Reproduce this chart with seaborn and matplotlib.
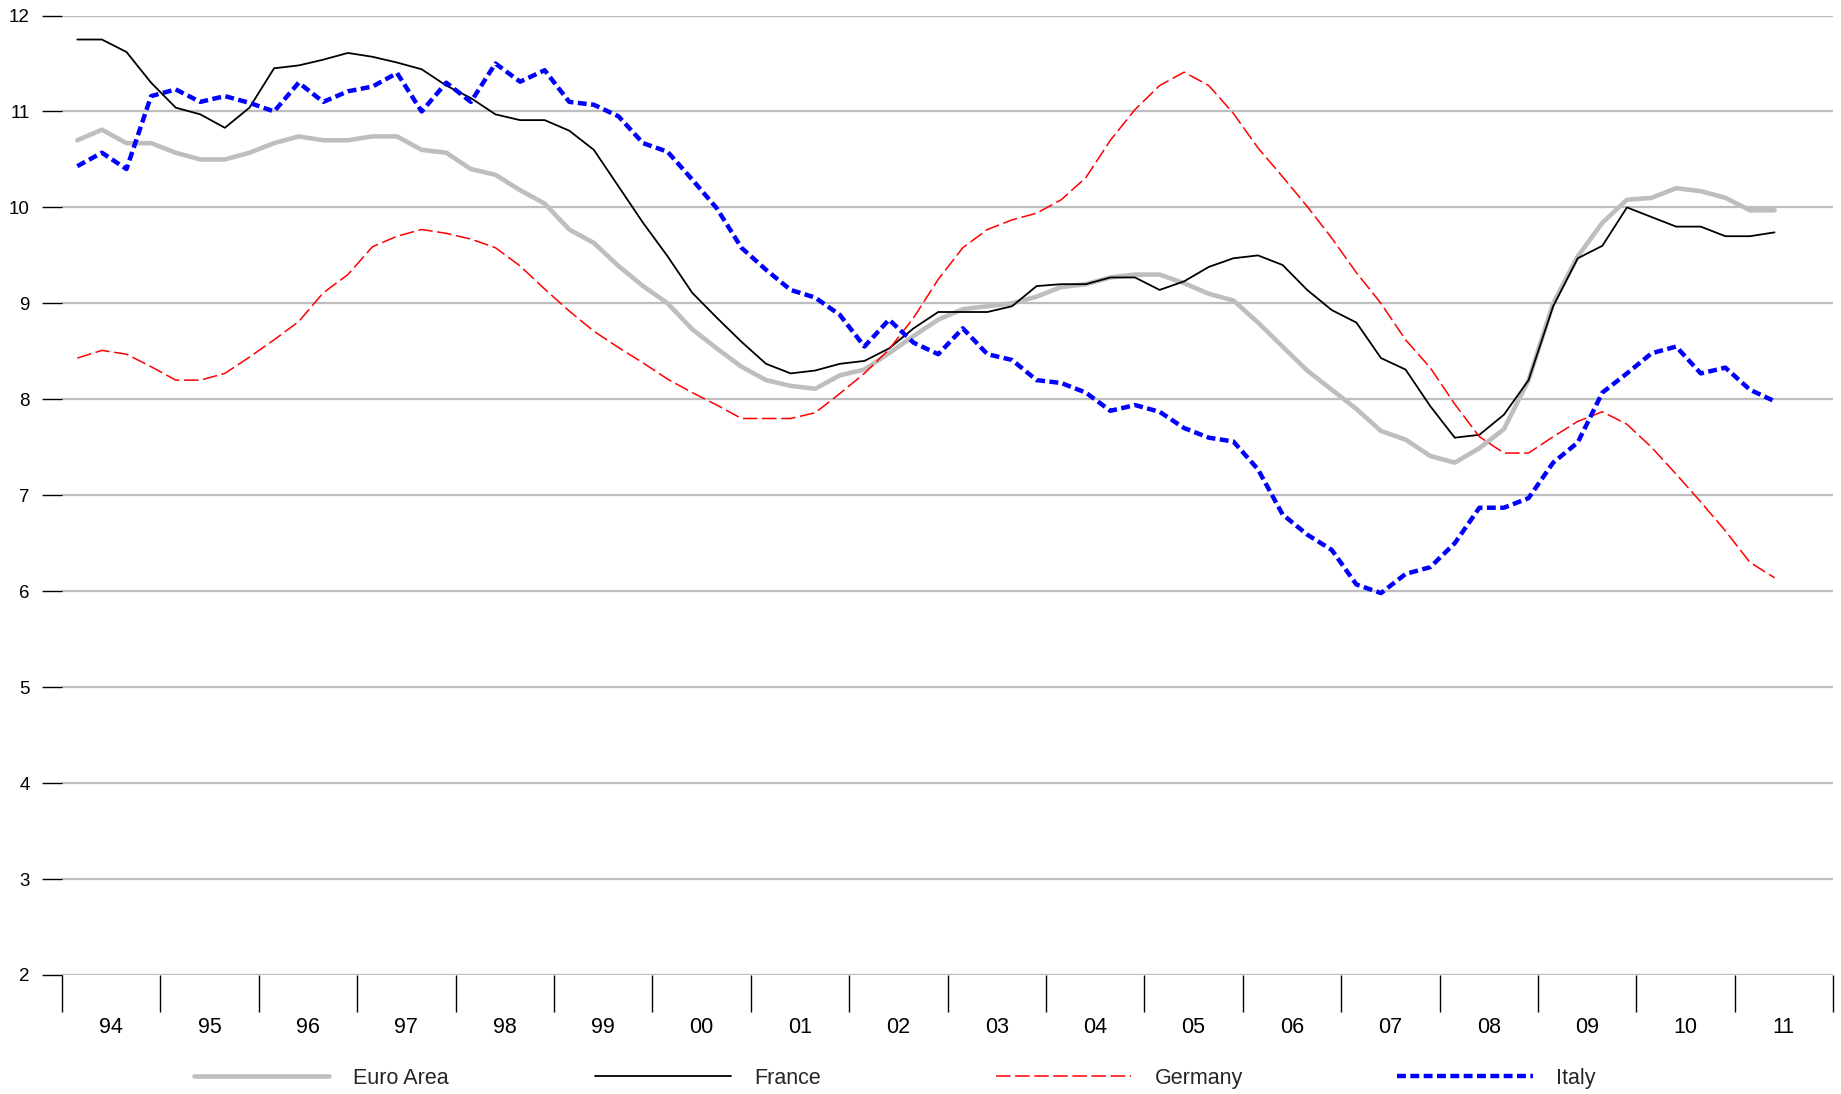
import numpy as np
import pandas as pd
import matplotlib
matplotlib.use("Agg")
import matplotlib.pyplot as plt
import seaborn as sns

# quarterly series, 1994Q1 .. 2011Q2
quarters = pd.period_range("1994Q1", "2011Q2", freq="Q")

euro_area = [10.70, 10.81, 10.67, 10.67, 10.57, 10.50, 10.50, 10.57, 10.67, 10.74,
             10.70, 10.70, 10.74, 10.74, 10.60, 10.57, 10.40, 10.34, 10.18, 10.04,
             9.77, 9.63, 9.39, 9.18, 9.00, 8.73, 8.53, 8.34, 8.20, 8.14,
             8.11, 8.25, 8.31, 8.48, 8.66, 8.83, 8.94, 8.97, 9.00, 9.07,
             9.17, 9.20, 9.27, 9.30, 9.30, 9.21, 9.10, 9.03, 8.80, 8.55,
             8.30, 8.10, 7.90, 7.67, 7.58, 7.41, 7.34, 7.49, 7.69, 8.20,
             9.00, 9.49, 9.84, 10.08, 10.10, 10.20, 10.17, 10.10, 9.97, 9.97]

france = [11.75, 11.75, 11.62, 11.30, 11.04, 10.97, 10.83, 11.04, 11.45, 11.48,
          11.54, 11.61, 11.57, 11.51, 11.44, 11.27, 11.14, 10.97, 10.91, 10.91,
          10.80, 10.60, 10.22, 9.84, 9.49, 9.11, 8.85, 8.60, 8.37, 8.27,
          8.30, 8.37, 8.40, 8.53, 8.74, 8.91, 8.91, 8.91, 8.97, 9.18,
          9.20, 9.20, 9.27, 9.27, 9.14, 9.23, 9.38, 9.47, 9.50, 9.40,
          9.14, 8.93, 8.80, 8.43, 8.31, 7.93, 7.60, 7.63, 7.84, 8.20,
          8.97, 9.47, 9.60, 10.00, 9.90, 9.80, 9.80, 9.70, 9.70, 9.74]

germany = [8.43, 8.51, 8.47, 8.34, 8.20, 8.20, 8.27, 8.44, 8.62, 8.81,
           9.11, 9.30, 9.59, 9.70, 9.77, 9.73, 9.67, 9.58, 9.39, 9.15,
           8.92, 8.71, 8.54, 8.38, 8.21, 8.07, 7.94, 7.80, 7.80, 7.80,
           7.86, 8.06, 8.27, 8.52, 8.85, 9.25, 9.58, 9.77, 9.87, 9.94,
           10.08, 10.31, 10.70, 11.02, 11.27, 11.41, 11.27, 10.98, 10.62, 10.32,
           10.01, 9.68, 9.32, 9.00, 8.62, 8.33, 7.95, 7.61, 7.44, 7.44,
           7.61, 7.77, 7.87, 7.74, 7.50, 7.22, 6.93, 6.63, 6.30, 6.14]

italy = [10.43, 10.57, 10.40, 11.16, 11.23, 11.10, 11.16, 11.09, 11.00, 11.30,
         11.10, 11.21, 11.26, 11.40, 11.00, 11.30, 11.10, 11.50, 11.31, 11.43,
         11.10, 11.07, 10.95, 10.67, 10.58, 10.29, 9.99, 9.58, 9.35, 9.14,
         9.06, 8.88, 8.55, 8.83, 8.59, 8.47, 8.74, 8.47, 8.41, 8.20,
         8.17, 8.07, 7.88, 7.94, 7.87, 7.70, 7.60, 7.56, 7.27, 6.80,
         6.59, 6.43, 6.07, 5.98, 6.18, 6.25, 6.50, 6.87, 6.87, 6.97,
         7.34, 7.55, 8.07, 8.27, 8.48, 8.55, 8.27, 8.33, 8.10, 7.98]

years = list(range(1994, 2012))
year_labels = ["94", "95", "96", "97", "98", "99", "00", "01", "02",
               "03", "04", "05", "06", "07", "08", "09", "10", "11"]
y_ticks = list(range(2, 13))

sns.set_theme(style="white")
plt.rcParams["font.family"] = ["Liberation Sans", "DejaVu Sans"]

# fractional year for each quarter (points sit early in the quarter)
t = quarters.year + (quarters.quarter - 1) / 4 + 0.155

df = pd.DataFrame({"t": t, "Euro Area": euro_area, "France": france,
                   "Germany": germany, "Italy": italy})

styles = {
    "Euro Area": dict(color="#bebebe", lw=3.3, linestyle="-"),
    "France": dict(color="black", lw=1.3, linestyle="-"),
    "Germany": dict(color="#ff0000", lw=1.1, linestyle=(0, (9.5, 3))),
    "Italy": dict(color="#0000ff", lw=3.2, linestyle=(0, (2.0, 1.0))),
}

fig = plt.figure(figsize=(18.41, 10.94), dpi=100)
ax = fig.add_axes([0.0337, 0.1088, 0.9620, 0.8770])

for name, st in styles.items():
    sns.lineplot(data=df, x="t", y=name, ax=ax, label=name,
                 solid_joinstyle="round", dash_capstyle="butt", **st)

ax.set_xlim(1994, 2012)
ax.set_ylim(2, 12)
ax.set_xlabel("")
ax.set_ylabel("")
for s in ax.spines.values():
    s.set_visible(False)

ax.yaxis.grid(True, color="#bebebe", lw=1.6)
ax.xaxis.grid(False)
ax.set_axisbelow(True)

ax.set_yticks(y_ticks)
ax.set_yticklabels([str(v) for v in y_ticks])
ax.tick_params(axis="y", left=True, length=14.4, width=1.0, color="black",
               pad=9, labelsize=13.5, labelcolor="black")

ax.set_xticks(years + [2012])
ax.set_xticklabels([])
ax.set_xticks([y + 0.5 for y in years], minor=True)
ax.set_xticklabels(year_labels, minor=True)
ax.tick_params(axis="x", which="major", bottom=True, length=26.6, width=1.0,
               color="black")
ax.tick_params(axis="x", which="minor", bottom=True, length=0, pad=30,
               labelsize=15.5, labelcolor="black")

ax.get_legend().remove()
handles = ax.get_lines()
names = list(styles.keys())
legend_x = [0.1052, 0.3233, 0.5408, 0.7588]
for h, name, lx in zip(handles, names, legend_x):
    fig.legend(handles=[h], labels=[name], loc="center left",
               bbox_to_anchor=(lx, 0.0146), frameon=False, fontsize=15.5,
               borderpad=0, borderaxespad=0, handlelength=6.3,
               handletextpad=1.1)

fig.savefig("out.png", dpi=100)
